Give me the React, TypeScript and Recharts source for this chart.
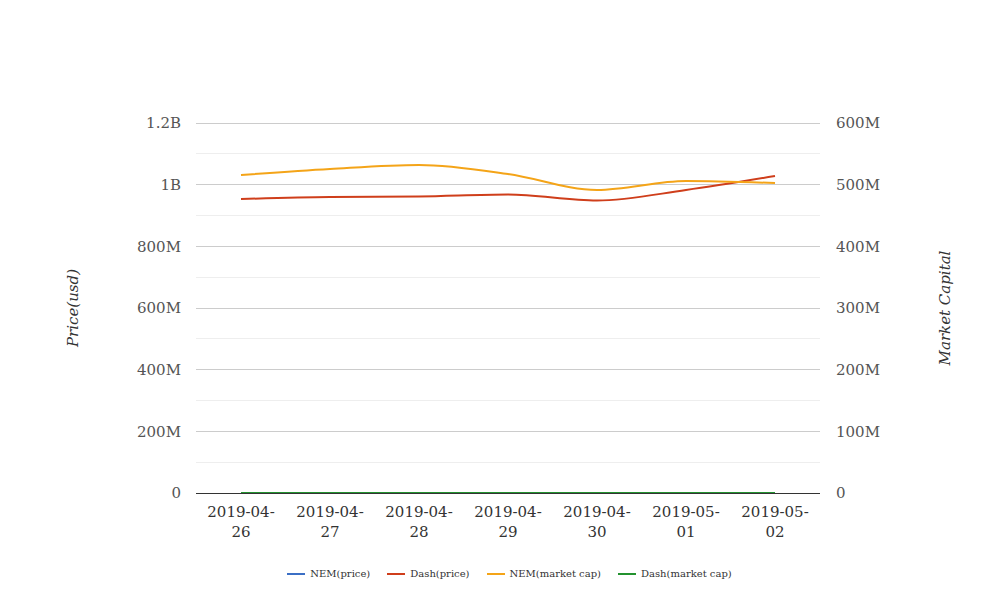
import { LineChart, Line, XAxis, YAxis, CartesianGrid, Legend } from 'recharts'

const dates = ['2019-04-26', '2019-04-27', '2019-04-28', '2019-04-29', '2019-04-30', '2019-05-01', '2019-05-02']
const nemPrice = [0.078, 0.077, 0.076, 0.077, 0.074, 0.075, 0.075]
const dashPrice = [953.5e6, 960e6, 961.6e6, 968e6, 948.6e6, 982.7e6, 1028e6]
const nemCap = [515.7e6, 525.4e6, 531.9e6, 517.3e6, 491.4e6, 505.9e6, 502.7e6]
const dashCap = [121, 122, 121, 123, 119, 124, 129]

// every 100M; labels only on the 200M steps, the rest are minor grid lines
const leftTicks = [0, 100e6, 200e6, 300e6, 400e6, 500e6, 600e6, 700e6, 800e6, 900e6, 1000e6, 1100e6, 1200e6]
const rightTicks = [0, 100e6, 200e6, 300e6, 400e6, 500e6, 600e6]

const seriesNames = ['NEM(price)', 'Dash(price)', 'NEM(market cap)', 'Dash(market cap)']

const data = dates.map((d, i) => ({
  date: d,
  nemPrice: nemPrice[i],
  dashPrice: dashPrice[i],
  nemCap: nemCap[i],
  dashCap: dashCap[i],
}))

const FONT = '"DejaVu Serif", serif'

const fmt = (v: number) => {
  if (v >= 1e9) return `${+(v / 1e9).toFixed(1)}B`
  if (v >= 1e6) return `${+(v / 1e6).toFixed(0)}M`
  return String(v)
}

const leftFmt = (v: number) => (Math.round(v / 100e6) % 2 === 1 ? '' : fmt(v))

function DateTick({ x, y, payload }: any) {
  const s: string = payload.value
  const cut = s.lastIndexOf('-') + 1
  return (
    <text x={x} y={y} textAnchor="middle" fill="#333" fontSize={15} fontFamily={FONT}>
      <tspan x={x} dy={16}>{s.slice(0, cut)}</tspan>
      <tspan x={x} dy={20}>{s.slice(cut)}</tspan>
    </text>
  )
}

function AxisTitle({ x, y, text }: { x: number; y: number; text: string }) {
  return (
    <text
      x={x}
      y={y}
      transform={`rotate(-90 ${x} ${y})`}
      textAnchor="middle"
      dominantBaseline="central"
      fill="#333"
      fontSize={15}
      fontStyle="italic"
      fontFamily={FONT}
    >
      {text}
    </text>
  )
}

function LegendContent({ payload }: any) {
  const items = [...(payload || [])].sort(
    (a: any, b: any) => seriesNames.indexOf(a.value) - seriesNames.indexOf(b.value)
  )
  return (
    <div style={{ display: 'flex', justifyContent: 'center', paddingLeft: 3, marginTop: 4, fontFamily: FONT, fontSize: 10, color: '#333' }}>
      {items.map((it: any, i: number) => (
        <div key={it.value} style={{ display: 'flex', alignItems: 'center', marginLeft: i === 0 ? 0 : 17 }}>
          <svg width={18} height={10} style={{ marginRight: 5 }}>
            <line x1={0} y1={5} x2={18} y2={5} stroke={it.color} strokeWidth={2} />
          </svg>
          <span>{it.value}</span>
        </div>
      ))}
    </div>
  )
}

const gridLine = (p: any) => (
  <line
    key={p.key}
    x1={p.x1}
    y1={p.y1}
    x2={p.x2}
    y2={p.y2}
    stroke={p.index % 2 === 1 ? '#eeeeee' : '#cccccc'}
    strokeWidth={1}
    shapeRendering="crispEdges"
    fill="none"
  />
)

export default function App() {
  return (
    <div style={{ margin: -8, width: 1008, height: 616, background: '#fff' }}>
      <LineChart width={1008} height={616} data={data} margin={{ top: 123, right: 78, left: 86, bottom: 34 }}>
        <CartesianGrid yAxisId="left" vertical={false} horizontal={gridLine} />
        <XAxis
          dataKey="date"
          height={71}
          padding={{ left: 45, right: 45 }}
          tickLine={false}
          axisLine={{ stroke: '#333', shapeRendering: 'crispEdges' }}
          tick={<DateTick />}
          interval={0}
        />
        <YAxis
          yAxisId="left"
          width={110}
          domain={[0, 1200e6]}
          ticks={leftTicks}
          interval={0}
          tickFormatter={leftFmt}
          tickLine={false}
          axisLine={false}
          tickMargin={9}
          tick={{ fill: '#555', fontSize: 15, fontFamily: FONT }}
          label={() => <AxisTitle x={73} y={308} text="Price(usd)" />}
        />
        <YAxis
          yAxisId="right"
          orientation="right"
          width={110}
          domain={[0, 600e6]}
          ticks={rightTicks}
          interval={0}
          tickFormatter={fmt}
          tickLine={false}
          axisLine={false}
          tickMargin={10}
          tick={{ fill: '#555', fontSize: 15, fontFamily: FONT }}
          label={() => <AxisTitle x={945} y={308} text="Market Capital" />}
        />
        <Legend content={<LegendContent />} height={18} />
        <Line yAxisId="left" type="monotone" dataKey="nemPrice" name="NEM(price)" stroke="#3b6fc5" strokeWidth={2} dot={false} isAnimationActive={false} />
        <Line yAxisId="left" type="monotone" dataKey="dashPrice" name="Dash(price)" stroke="#cf3e1b" strokeWidth={2} dot={false} isAnimationActive={false} />
        <Line yAxisId="right" type="monotone" dataKey="nemCap" name="NEM(market cap)" stroke="#f4a418" strokeWidth={2} dot={false} isAnimationActive={false} />
        <Line yAxisId="right" type="monotone" dataKey="dashCap" name="Dash(market cap)" stroke="#23922f" strokeWidth={2} dot={false} isAnimationActive={false} />
      </LineChart>
    </div>
  )
}
